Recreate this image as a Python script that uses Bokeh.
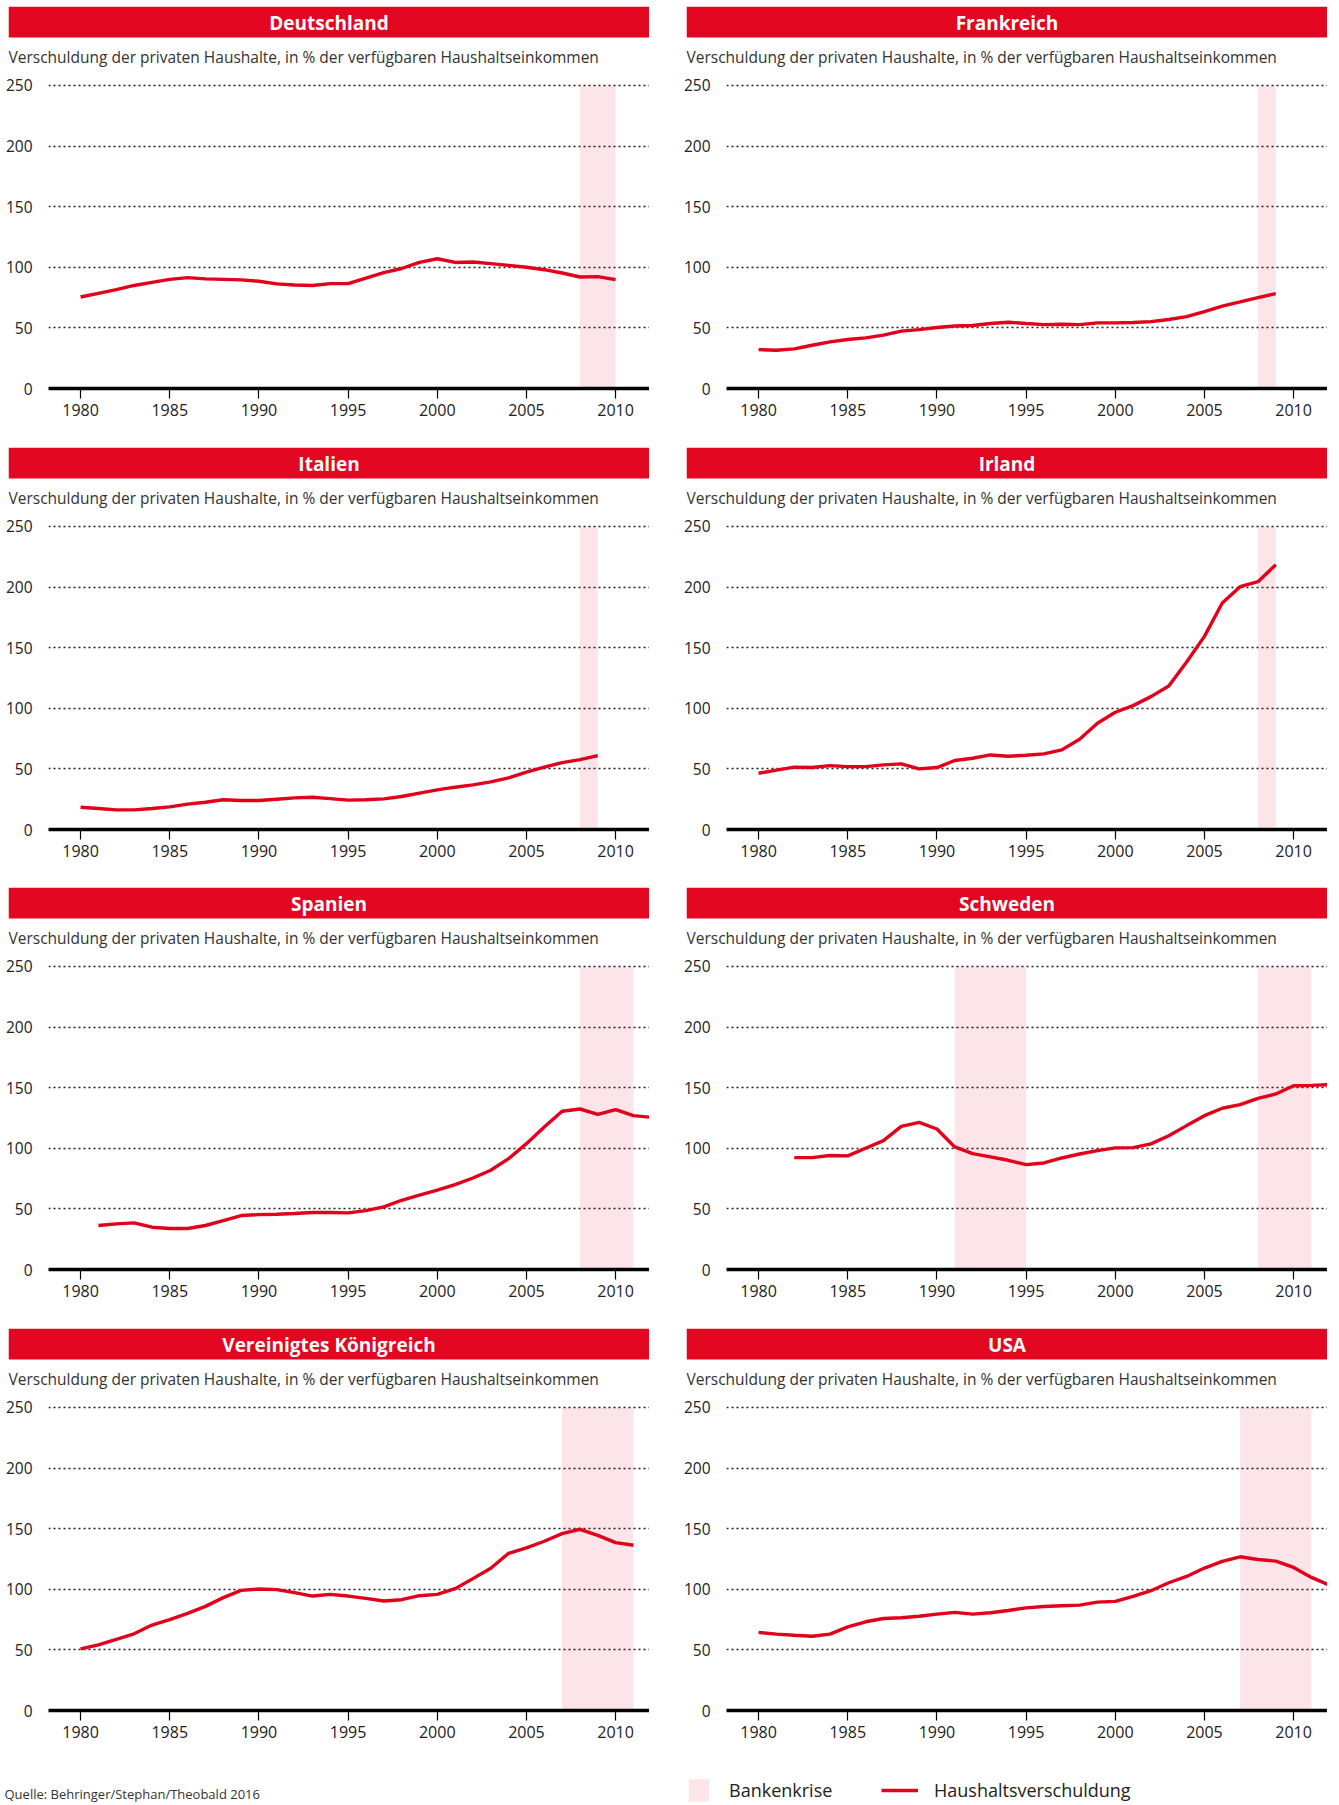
from bokeh.plotting import figure
from bokeh.models import Range1d, FixedTicker, Spacer, Legend, LegendItem
from bokeh.layouts import column, row
from bokeh.embed import file_html
from bokeh.resources import INLINE
from bokeh.core.properties import value

# ---------------- data ----------------
YEAR_TICKS = [1980, 1985, 1990, 1995, 2000, 2005, 2010]
VALUE_TICKS = [0, 50, 100, 150, 200, 250]
SUBTITLE = "Verschuldung der privaten Haushalte, in % der verfügbaren Haushaltseinkommen"
SOURCE = "Quelle: Behringer/Stephan/Theobald 2016"
LEGEND_BAND = "Bankenkrise"
LEGEND_LINE = "Haushaltsverschuldung"

countries = ["Deutschland", "Frankreich", "Italien", "Irland",
             "Spanien", "Schweden", "Vereinigtes Königreich", "USA"]

de_years = list(range(1980, 2011))
de_values = [75.5, 78.5, 81.5, 85, 87.5, 90, 91.5, 90.4, 90, 89.6, 88.5, 86.3, 85.4, 85,
             86.5, 86.5, 91, 95.6, 99, 104, 107, 104, 104.4, 103, 101.6, 100, 98, 95.3,
             92, 92.3, 89.8]
de_crises = [(2008, 2010)]

fr_years = list(range(1980, 2010))
fr_values = [32.1, 31.6, 32.7, 35.7, 38.5, 40.4, 41.8, 44, 47.3, 48.6, 50.3, 51.6, 52,
             53.6, 54.7, 53.6, 52.7, 53, 52.7, 54.1, 54.1, 54.4, 55.2, 56.9, 59.3, 63.5,
             67.9, 71.4, 75, 78.3]
fr_crises = [(2008, 2009)]

it_years = list(range(1980, 2010))
it_values = [18.4, 17.3, 16.2, 16.2, 17.3, 18.7, 20.9, 22.5, 24.5, 23.9, 23.9, 25, 26.1,
             26.6, 25.5, 24.2, 24.5, 25.3, 27.2, 30, 32.7, 34.9, 36.8, 39.3, 42.6, 47.3,
             51.4, 55.2, 57.7, 61]
it_crises = [(2008, 2009)]

ie_years = list(range(1980, 2010))
ie_values = [46.4, 49, 51.4, 51.1, 52.7, 51.9, 51.9, 53.3, 54.1, 50, 51.1, 56.9, 58.8,
             61.5, 60.4, 61.3, 62.4, 65.7, 74.5, 87.6, 96.7, 102.2, 109.6, 118.4, 138.2,
             159.3, 186.8, 200.3, 204.4, 218.4]
ie_crises = [(2008, 2009)]

es_years = list(range(1981, 2013))
es_values = [36.3, 37.6, 38.5, 34.9, 33.8, 33.8, 36.3, 40.4, 44.5, 45.3, 45.6, 46.2, 47,
             47, 46.7, 48.6, 51.6, 57.1, 61.3, 65.4, 70, 75.5, 81.9, 91.5, 103.8, 117.6,
             130.5, 132.4, 128, 131.9, 126.9, 125.5]
es_crises = [(2008, 2011)]

se_years = list(range(1982, 2013))
se_values = [92.3, 92.3, 94, 93.7, 100, 106.3, 118.1, 121.4, 115.9, 101.1, 95.6, 92.9,
             90.1, 86.5, 87.9, 92, 95.3, 98.1, 100.3, 100.5, 103.6, 110.4, 118.7, 126.9,
             133, 136, 141.2, 144.8, 151.6, 151.9, 152.5]
se_crises = [(1991, 1995), (2008, 2011)]

uk_years = list(range(1980, 2012))
uk_values = [50.9, 54.2, 58.6, 63.3, 70.5, 74.9, 80.1, 85.9, 93.1, 99.1, 100.2, 99.7,
             97.2, 94.4, 95.8, 94.4, 92.5, 90.3, 91.4, 94.7, 95.8, 100.5, 108.8, 117.3,
             129.7, 134.1, 139.6, 145.9, 149.5, 144.5, 138.5, 136.3]
uk_crises = [(2007, 2011)]

us_years = list(range(1980, 2013))
us_values = [64.4, 63, 62.1, 61.3, 63, 69, 73.2, 75.9, 76.5, 77.8, 79.5, 80.9, 79.5, 80.6,
             82.5, 84.7, 85.8, 86.4, 86.9, 89.4, 90, 94.1, 98.8, 105.4, 110.6, 117.5, 123,
             126.8, 124.6, 123.2, 118, 109.8, 103.4]
us_crises = [(2007, 2011)]

series_years = [de_years, fr_years, it_years, ie_years, es_years, se_years, uk_years, us_years]
series_values = [de_values, fr_values, it_values, ie_values, es_values, se_values, uk_values, us_values]
series_crises = [de_crises, fr_crises, it_crises, ie_crises, es_crises, se_crises, uk_crises, us_crises]

# ---------------- style ----------------
LINE_RED = "#e2001a"
BANNER_RED = "#e30620"
FONT = "Open Sans"
TEXT = "#222222"
W = 641          # banner width
FRAME_W = 601    # plot frame width
HEAD_H = 69
X_START, X_END = 1978.2, 2011.9
Y_TOP = 251.6


def header(title):
    b = figure(width=W, height=HEAD_H, x_range=Range1d(0, W), y_range=Range1d(HEAD_H, 0),
               toolbar_location=None, output_backend="svg", frame_align=False,
               x_axis_location=None, y_axis_location=None, min_border=0)
    b.outline_line_color = None
    b.grid.visible = False
    b.quad(left=[0], right=[W], top=[0], bottom=[31], fill_color=BANNER_RED, line_color=None)
    b.text(x=[W / 2], y=[16], text=[title], text_align="center", text_baseline="middle",
           text_color="white", text_font=value(FONT), text_font_style="bold",
           text_font_size="19px")
    b.text(x=[0], y=[50], text=[SUBTITLE], text_align="left", text_baseline="middle",
           text_color="#333333", text_font=value(FONT), text_font_size="15.5px")
    return b


def chart(years, values, crises, height, left_border):
    p = figure(width=FRAME_W + left_border, height=height,
               x_range=Range1d(X_START, X_END), y_range=Range1d(0, Y_TOP),
               toolbar_location=None, output_backend="svg", frame_align=False,
               min_border_left=left_border, min_border_right=0, min_border_top=8,
               min_border_bottom=height - 313)
    p.outline_line_color = None
    p.xgrid.visible = False
    p.ygrid.ticker = FixedTicker(ticks=VALUE_TICKS)
    p.ygrid.grid_line_color = "#1e1e1e"
    p.ygrid.grid_line_dash = "2 3"
    p.ygrid.grid_line_width = 1.6
    for s, e in crises:
        p.quad(left=[s], right=[e], bottom=[0], top=[250], fill_color=LINE_RED,
               fill_alpha=0.1, line_color=None)
    p.line(years, values, line_color=LINE_RED, line_width=3.4)

    xa = p.xaxis[0]
    xa.ticker = FixedTicker(ticks=YEAR_TICKS)
    xa.axis_line_color = "black"
    xa.axis_line_width = 3.5
    xa.major_tick_in = 0
    xa.major_tick_out = 10
    xa.major_tick_line_width = 1.2
    xa.major_tick_line_color = "black"
    xa.minor_tick_line_color = None
    xa.major_label_standoff = 5
    xa.major_label_text_font = FONT
    xa.major_label_text_font_size = "16px"
    xa.major_label_text_color = TEXT

    ya = p.yaxis[0]
    ya.ticker = FixedTicker(ticks=VALUE_TICKS)
    ya.axis_line_color = None
    ya.major_tick_line_color = None
    ya.minor_tick_line_color = None
    ya.major_tick_out = 0
    ya.major_tick_in = 0
    ya.major_label_standoff = 16
    ya.major_label_text_font = FONT
    ya.major_label_text_font_size = "15.5px"
    ya.major_label_text_color = TEXT
    return p


row_heights = [372, 371, 372, 371]   # chart heights (header 69 each)
LEFT_GAP = [8, 37]                   # space before banner (page margin / column gap)
LEFT_BORDER = [48, 77]               # chart left border incl. y tick labels

rows = []
for r in range(4):
    cols = []
    for c in range(2):
        i = 2 * r + c
        head = row(Spacer(width=LEFT_GAP[c], height=10), header(countries[i]), spacing=0)
        ch = chart(series_years[i], series_values[i], series_crises[i],
                   row_heights[r], LEFT_BORDER[c])
        cols.append(column(head, ch, spacing=0))
    rows.append(row(*cols, spacing=0))

# ---------------- footer with source and legend ----------------
FW, FH = 1327, 36
foot = figure(width=FW, height=FH, x_range=Range1d(0, FW), y_range=Range1d(0, FH),
              toolbar_location=None, output_backend="svg", frame_align=False,
              x_axis_location=None, y_axis_location=None, min_border=0)
foot.outline_line_color = None
foot.grid.visible = False
foot.text(x=[4], y=[11], text=[SOURCE], text_align="left", text_baseline="middle",
          text_color="#333333", text_font=value(FONT), text_font_size="13px")
r_band = foot.quad(left=[-60], right=[-50], top=[5], bottom=[0], fill_color=LINE_RED,
                   fill_alpha=0.1, line_color=None)
r_line = foot.line(x=[-60, -50], y=[5, 5], line_color=LINE_RED, line_width=3.4)

common = dict(orientation="horizontal", padding=0, margin=0, border_line_color=None,
              background_fill_alpha=0, label_text_font=FONT, label_text_font_size="18px",
              label_text_color=TEXT, glyph_height=28, label_height=28)
leg_band = Legend(items=[LegendItem(label=LEGEND_BAND, renderers=[r_band])],
                  location=(686, 0), glyph_width=25, label_standoff=18, **common)
leg_line = Legend(items=[LegendItem(label=LEGEND_LINE, renderers=[r_line])],
                  location=(881, 0), glyph_width=37, label_standoff=16, **common)
foot.add_layout(leg_band)
foot.add_layout(leg_line)

layout = column(Spacer(width=10, height=6), *rows, foot, spacing=0)

with open("out.html", "w") as f:
    f.write(file_html(layout, INLINE))
